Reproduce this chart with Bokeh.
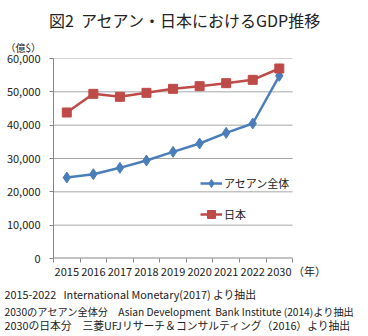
from bokeh.plotting import figure
from bokeh.models import Range1d, FixedTicker, NumeralTickFormatter, Legend, LegendItem, Title
from bokeh.embed import file_html
from bokeh.resources import INLINE

years = ["2015", "2016", "2017", "2018", "2019", "2020", "2021", "2022", "2030"]
asean = [24300, 25300, 27200, 29400, 32000, 34500, 37700, 40500, 54800]
japan = [43800, 49400, 48500, 49700, 50900, 51700, 52600, 53600, 57000]
y_ticks = [0, 10000, 20000, 30000, 40000, 50000, 60000]
title_text = "図2\u00a0\u00a0アセアン・日本におけるGDP推移"
unit_y = "（億$）"
unit_x = "（年）"
notes = [
    "2015-2022\u00a0\u00a0\u00a0International Monetary(2017) より抽出",
    "2030のアセアン全体分\u3000Asian Development\u00a0\u00a0Bank Institute (2014)より抽出",
    "2030の日本分\u3000三菱UFJリサーチ＆コンサルティング（2016）より抽出",
]
series_names = ["アセアン全体", "日本"]

JP = "Noto Sans CJK JP"
BLUE = "#4A7EBB"
RED = "#BE4B48"
TXT = "#222222"
AXIS = "#868686"
GRID = "#A6A6A6"

n = len(years)
xs = [i + 0.5 for i in range(n)]
unit_x_pos = n + 0.64
x_end = n + 0.9

p = figure(width=368, height=336, output_backend="svg", toolbar_location=None, title=None,
           x_range=Range1d(0, x_end), y_range=Range1d(0, 60000),
           min_border_left=53, min_border_right=52, min_border_top=58, min_border_bottom=78)
p.outline_line_color = None
p.background_fill_color = "white"
p.border_fill_color = "white"

# grid lines and x axis line, limited to the category span
p.xgrid.visible = False
p.ygrid.visible = False
p.segment(x0=[0] * (len(y_ticks) - 1), x1=[n] * (len(y_ticks) - 1),
          y0=y_ticks[1:], y1=y_ticks[1:], line_color=GRID, line_width=1)
p.segment(x0=[0], x1=[n], y0=[0], y1=[0], line_color=AXIS, line_width=2)

# x axis
p.xaxis.ticker = FixedTicker(ticks=xs + [unit_x_pos], minor_ticks=list(range(n + 1)))
overrides = {x: y for x, y in zip(xs, years)}
overrides[unit_x_pos] = unit_x
p.xaxis.major_label_overrides = overrides
p.xaxis.major_tick_out = 0
p.xaxis.major_tick_in = 0
p.xaxis.minor_tick_out = 4
p.xaxis.minor_tick_in = 0
p.xaxis.minor_tick_line_color = AXIS
p.xaxis.axis_line_color = None
p.xaxis.major_label_text_font = JP
p.xaxis.major_label_text_font_size = "11px"
p.xaxis.major_label_text_color = TXT
p.xaxis.major_label_standoff = 0

# y axis
p.yaxis.ticker = FixedTicker(ticks=y_ticks)
p.yaxis.formatter = NumeralTickFormatter(format="0,0")
p.yaxis.minor_tick_line_color = None
p.yaxis.major_tick_out = 4
p.yaxis.major_tick_in = 0
p.yaxis.major_tick_line_color = AXIS
p.yaxis.axis_line_color = AXIS
p.yaxis.major_label_text_font = JP
p.yaxis.major_label_text_font_size = "11px"
p.yaxis.major_label_text_color = TXT
p.yaxis.major_label_standoff = 9

# series
l1 = p.line(xs, asean, line_color=BLUE, line_width=2.5)
m1 = p.scatter(xs, asean, marker="diamond", size=11, fill_color=BLUE, line_color=BLUE)
l2 = p.line(xs, japan, line_color=RED, line_width=2.5)
m2 = p.scatter(xs, japan, marker="square", size=9, fill_color=RED, line_color=RED)

legend = Legend(items=[LegendItem(label=series_names[0], renderers=[l1, m1]),
                       LegendItem(label=series_names[1], renderers=[l2, m2])],
                location=(147, 34), padding=0, margin=0, spacing=11,
                background_fill_alpha=0, border_line_color=None,
                glyph_width=22, glyph_height=20, label_standoff=2,
                label_text_font=JP, label_text_font_size="11px", label_text_color=TXT)
p.add_layout(legend, "center")

# texts above (first added = closest to the plot)
p.add_layout(Title(text=unit_y, align="left", offset=-48, standoff=8,
                   text_font=JP, text_font_size="10px", text_font_style="normal",
                   text_color=TXT), "above")
p.add_layout(Title(text=title_text, align="center", offset=18, standoff=4,
                   text_font=JP, text_font_size="16px", text_font_style="normal",
                   text_color=TXT), "above")

# notes below
note_sizes = ["10.8px", "10.2px", "10.8px"]
for i, note in enumerate(notes):
    p.add_layout(Title(text=note, align="left", offset=-49, standoff=4 if i == 0 else -4,
                       text_font=JP, text_font_size=note_sizes[i], text_font_style="normal",
                       text_color=TXT), "below")

open("out.html", "w").write(file_html(p, INLINE))
